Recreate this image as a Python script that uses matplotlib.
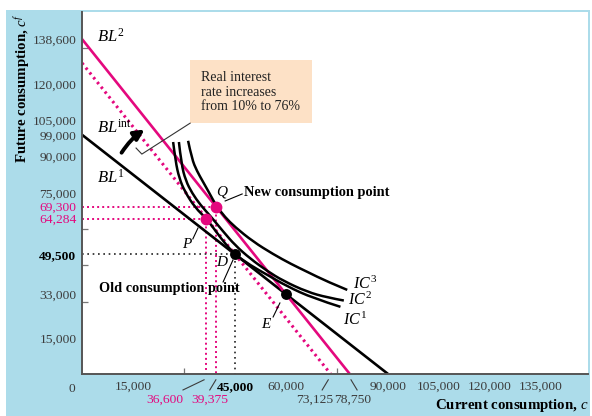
import matplotlib
matplotlib.use("Agg")
import matplotlib.pyplot as plt
from matplotlib.path import Path
from matplotlib.patches import PathPatch, Rectangle, FancyArrowPatch

plt.rcParams['font.family'] = 'Liberation Serif'
plt.rcParams['mathtext.fontset'] = 'custom'
plt.rcParams['mathtext.rm'] = 'Liberation Serif'
plt.rcParams['mathtext.it'] = 'Liberation Serif:italic'
plt.rcParams['mathtext.bf'] = 'Liberation Serif:bold'

PINK = '#e4087e'
BLUE = '#acdcea'
PEACH = '#fde1c6'
GREY = '#3c3c3c'

# budget lines: (current consumption intercept, future consumption intercept)
bl1 = (90000, 99000)
bl2 = (78750, 138600)
bl_int = (73125, 128700)

# consumption points
pt_D = (45000, 49500)
pt_E = (60000, 33000)
pt_P = (36600, 64284)
pt_Q = (39375, 69300)

# indifference curves
ic1_c = [26800, 27500, 28600, 30300, 33300, 36600, 39600, 42300, 45000, 49500, 54400, 60300, 67900, 76000]
ic1_f = [96000, 88000, 81000, 75300, 68800, 64300, 58600, 53600, 49500, 45000, 41100, 36300, 31400, 27800]
ic2_c = [28500, 29200, 30500, 32400, 34800, 37800, 41500, 45000, 49500, 54500, 59100, 66200, 72000, 77000]
ic2_f = [96000, 87000, 80000, 74800, 70000, 65300, 59000, 53300, 47700, 42600, 38600, 34000, 31700, 30400]
ic3_c = [31200, 32300, 33800, 35600, 37400, 39400, 42000, 45000, 50300, 56200, 61500, 66200, 72000, 78000]
ic3_f = [96500, 89000, 84000, 79500, 75000, 69800, 65000, 60800, 54800, 49600, 45500, 42300, 38300, 34800]

ytick_vals = [15000, 33000, 49500, 64284, 69300, 75000, 90000, 99000, 105000, 120000, 138600]
xtick_vals = [15000, 45000, 60000, 90000, 105000, 120000, 135000]
x_extra = [36600, 39375, 73125, 78750]

fig = plt.figure(figsize=(5.92, 4.16), dpi=100)
fig.patch.set_facecolor('white')
fig.add_artist(Rectangle((6 / 592, 0), 584 / 592, 406 / 416, transform=fig.transFigure,
                         facecolor=BLUE, edgecolor='none', zorder=-10))

ax = fig.add_axes([82 / 592, 42 / 416, 506 / 592, 362 / 416])
ax.set_facecolor('white')
ax.set_xlim(0, 148800)
ax.set_ylim(0, 149800)
for s in ['top', 'right']:
    ax.spines[s].set_visible(False)
for s in ['left', 'bottom']:
    ax.spines[s].set_color('#555555')
    ax.spines[s].set_linewidth(1.4)

# small inward ticks every 15,000
ax.set_xticks(range(15000, 148800, 15000), minor=True)
ax.set_yticks(range(15000, 149800, 15000), minor=True)
ax.tick_params(which='minor', direction='in', length=4, width=0.9, color='#777777')

ax.set_xticks(xtick_vals, ['{:,}'.format(v) for v in xtick_vals])
ax.set_yticks(ytick_vals, ['{:,}'.format(v) for v in ytick_vals])
ax.tick_params(which='major', length=0, labelsize=9.7, labelcolor=GREY)
ax.tick_params(axis='x', pad=5)
ax.tick_params(axis='y', pad=4)
for lab in ax.get_yticklabels():
    t = lab.get_text()
    if t in ('64,284', '69,300'):
        lab.set_color(PINK)
    if t == '49,500':
        lab.set_color('black')
        lab.set_fontweight('bold')
for lab in ax.get_xticklabels():
    if lab.get_text() == '45,000':
        lab.set_color('black')
        lab.set_fontweight('bold')

ax.annotate('0', xy=(0, 0), xycoords='data', xytext=(-7, -11), textcoords='offset points',
            ha='center', va='center', fontsize=9.7, color=GREY, annotation_clip=False)

# second row of x labels with leader lines
extra_off = [-12200, -1700, -4800, 750]
lead_top = [-700, 0, -700, 350]
lead_bot = [-6900, -1800, -2500, 2150]
extra_col = [PINK, PINK, GREY, GREY]
for v, o, t, b, c in zip(x_extra, extra_off, lead_top, lead_bot, extra_col):
    ax.text(v + o, -10800, '{:,}'.format(v), ha='center', va='center', fontsize=9.7,
            color=c, clip_on=False)
    ax.plot([v + t, v + b], [-2400, -6600], color=GREY, lw=0.8, clip_on=False)

# guide lines
pdot = (0, (1, 1.6))
ax.plot([0, pt_Q[0], pt_Q[0]], [pt_Q[1], pt_Q[1], 0], color=PINK, lw=1.4, ls=pdot)
ax.plot([0, pt_P[0], pt_P[0]], [pt_P[1], pt_P[1], 0], color=PINK, lw=1.4, ls=pdot)
ax.plot([0, pt_D[0], pt_D[0]], [pt_D[1], pt_D[1], 0], color='#222222', lw=1.2, ls=(0, (1, 2.2)))

# budget lines
ax.plot([0, bl1[0]], [bl1[1], 0], color='black', lw=1.9, solid_capstyle='butt')
ax.plot([0, bl2[0]], [bl2[1], 0], color=PINK, lw=1.9, solid_capstyle='butt')
ax.plot([0, bl_int[0]], [bl_int[1], 0], color=PINK, lw=2.2, ls=(0, (0.8, 1.2)))


def smooth_path(xs, ys):
    pts = list(zip(xs, ys))
    verts = [pts[0]]
    codes = [Path.MOVETO]
    n = len(pts)
    for i in range(1, n - 1):
        if i == n - 2:
            end = pts[-1]
        else:
            end = ((pts[i][0] + pts[i + 1][0]) / 2, (pts[i][1] + pts[i + 1][1]) / 2)
        verts += [pts[i], end]
        codes += [Path.CURVE3, Path.CURVE3]
    return Path(verts, codes)


for xs, ys in [(ic1_c, ic1_f), (ic2_c, ic2_f), (ic3_c, ic3_f)]:
    ax.add_patch(PathPatch(smooth_path(xs, ys), facecolor='none', edgecolor='black', lw=1.8,
                           capstyle='butt', zorder=3))

# points
for p in (pt_Q, pt_P):
    ax.plot(*p, 'o', color=PINK, ms=7.5, zorder=5)
for p in (pt_D, pt_E):
    ax.plot(*p, 'o', color='black', ms=6.8, zorder=5)

# point labels and leaders
ax.text(41200, 75300, 'Q', fontsize=11, style='italic', ha='center', va='center')
ax.plot([42100, 47100], [71600, 74500], color='black', lw=0.8)
ax.text(47600, 75300, 'New consumption point', fontsize=10.4, fontweight='bold', ha='left', va='center')
ax.text(30900, 53400, 'P', fontsize=11, style='italic', ha='center', va='center')
ax.plot([32600, 34100], [55900, 60400], color='black', lw=0.8)
ax.text(41200, 46300, 'D', fontsize=11, style='italic', ha='center', va='center')
ax.plot([44400, 41500], [47200, 38100], color='black', lw=0.8)
ax.text(5000, 35200, 'Old consumption point', fontsize=10.3, fontweight='bold', ha='left', va='center')
ax.text(54100, 20300, 'E', fontsize=11, style='italic', ha='center', va='center')
ax.plot([56200, 58200], [23600, 29400], color='black', lw=0.8)

# curve labels
ax.text(79700, 37000, r'$IC^{\mathrm{3}}$', fontsize=11.5, ha='left', va='center')
ax.text(78200, 30300, r'$IC^{\mathrm{2}}$', fontsize=11.5, ha='left', va='center')
ax.text(76800, 22000, r'$IC^{\mathrm{1}}$', fontsize=11.5, ha='left', va='center')
ax.text(4400, 139400, r'$BL^{\mathrm{2}}$', fontsize=12, ha='left', va='center')
ax.text(4400, 101800, r'$BL^{\mathrm{int}}$', fontsize=12, ha='left', va='center')
ax.text(4400, 81100, r'$BL^{\mathrm{1}}$', fontsize=12, ha='left', va='center')

# interest rate box
ax.add_patch(Rectangle((31800, 103800), 35800, 26100, facecolor=PEACH, edgecolor='none', zorder=2))
ax.text(35000, 116600, 'Real interest\nrate increases\nfrom 10% to 76%', fontsize=10,
        ha='left', va='center', linespacing=1.15, color='#222222', zorder=3)
ax.plot([31800, 17600, 15900], [103800, 91000, 93500], color='#333333', lw=0.8)

ax.add_patch(FancyArrowPatch((11200, 90600), (19100, 101800), arrowstyle='-|>',
                             mutation_scale=15, lw=2.8, color='black',
                             connectionstyle='arc3,rad=-0.12', zorder=4))

fig.text(22 / 592, 1 - 13 / 416, r'Future consumption, $c^f$', rotation=90, ha='center',
         va='top', fontsize=10.7, fontweight='bold')
fig.text(588 / 592, 1 - 406 / 416, r'Current consumption, $c$', ha='right', va='center',
         fontsize=10.7, fontweight='bold')

fig.savefig('out.png', dpi=100, facecolor=fig.get_facecolor())
